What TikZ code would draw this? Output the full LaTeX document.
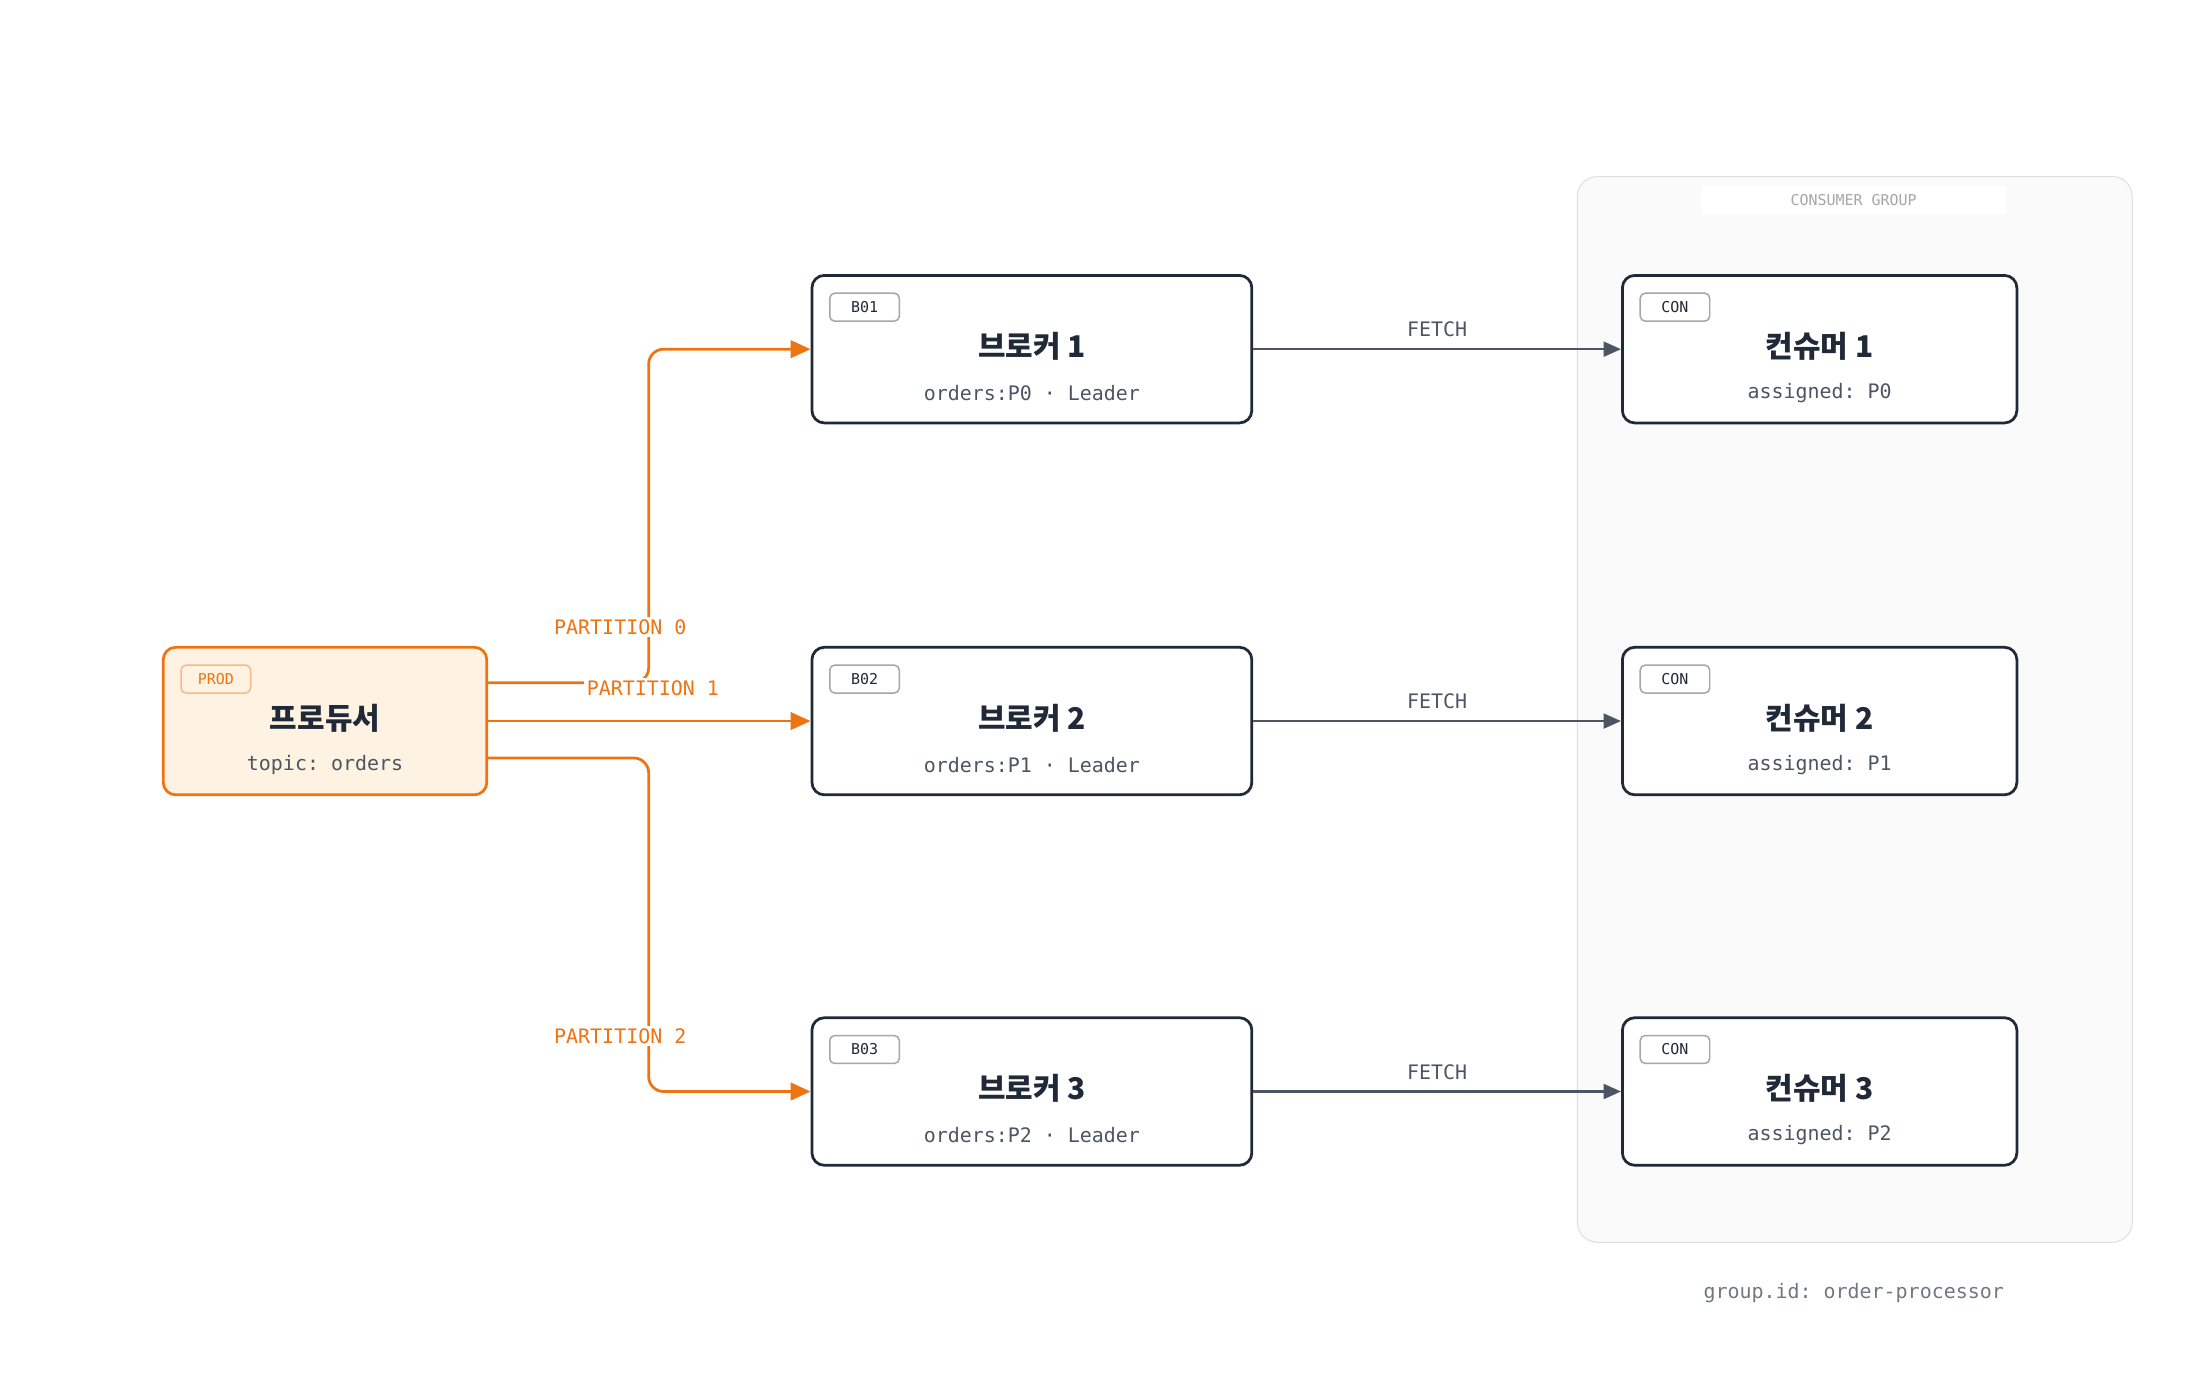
\documentclass[tikz,border=0pt]{standalone}
\usepackage{fontspec}
\setmainfont{Noto Sans CJK KR}
\setmonofont{DejaVu Sans Mono}
\usetikzlibrary{arrows.meta,positioning}
\definecolor{ink}{HTML}{1F2937}
\definecolor{gray1}{HTML}{4B5563}
\definecolor{orng}{HTML}{EE7311}
\definecolor{cream}{HTML}{FEF3E2}
\tikzset{
  box/.style={rectangle, rounded corners=5pt, draw=ink, line width=1.1pt, fill=white, minimum width=6.2cm, minimum height=2.08cm, inner sep=0pt},
  tag/.style={rectangle, rounded corners=2pt, draw=gray!70, line width=0.6pt, fill=white, minimum width=0.98cm, minimum height=0.38cm, font=\ttfamily\fontsize{6}{7}\selectfont, text=ink},
  title/.style={font=\bfseries\fontsize{12}{14}\selectfont, text=ink},
  sub/.style={font=\ttfamily\fontsize{8}{10}\selectfont, text=gray1},
  lbl/.style={font=\ttfamily\fontsize{8}{10}\selectfont},
  send/.style={draw=orng, line width=1.1pt, rounded corners=6pt, -{Triangle[length=8pt,width=7pt]}},
  fetch/.style={draw=gray1, line width=0.9pt, -{Triangle[length=7pt,width=6pt]}}
}
\newcommand{\mkbox}[6]{% name, x, y, tag, title, sub
  \node[box, minimum width=#6] (#1) at (#2,#3) {};
  \node[tag, anchor=north west] (#1t) at ([xshift=0.26cm,yshift=-0.26cm]#1.north west) {#4};
  \node[title] (#1n) at ([yshift=0.04cm]#1.center) {#5};
}
\begin{document}
\begin{tikzpicture}[x=0.02cm,y=-0.02cm]
\useasboundingbox (0,0) rectangle (1550,971);
% consumer group
\node[rectangle, rounded corners=8pt, draw=gray!25, fill=gray!4, minimum width=7.82cm, minimum height=15.02cm, anchor=north west] (grp) at (1111,124) {};
\node[fill=white, minimum width=4.3cm, minimum height=0.38cm, font=\ttfamily\fontsize{6}{7}\selectfont, text=gray!70] (grpl) at (1306,141) {CONSUMER GROUP};
\node[font=\ttfamily\fontsize{8}{10}\selectfont, text=gray1!80] (gid) at (1306,911) {group.id: order-processor};
% producer
\node[box, draw=orng, fill=cream, minimum width=4.56cm] (prod) at (229,508) {};
\node[tag, anchor=north west, draw=orng!50, fill=cream, text=orng] (prodt) at ([xshift=0.26cm,yshift=-0.26cm]prod.north west) {PROD};
\node[title] (prodn) at ([yshift=0.04cm]prod.center) {프로듀서};
\node[sub] at ([yshift=-0.62cm]prod.center) {topic: orders};
% brokers and consumers
\foreach \i/\y/\p in {1/246/0,2/508/1,3/769/2}{
  \mkbox{b\i}{727}{\y}{B0\i}{브로커 \i}{6.2cm}
  \node[sub] at ([yshift=-0.62cm]b\i.center) {orders:P\p\ · Leader};
  \mkbox{c\i}{1282}{\y}{CON}{컨슈머 \i}{5.56cm}
  \node[sub] at ([yshift=-0.62cm]c\i.center) {assigned: P\p};
  \draw[fetch] (b\i) -- node[lbl, text=gray1, above=1pt] {FETCH} (c\i);
}
% partitions
\coordinate (p0) at (343,481);
\coordinate (p2) at (343,534);
\draw[send] (p0) -- (457,481) -- (457,246) -- (b1.west);
\draw[send] (prod.east) -- (b2.west);
\draw[send] (p2) -- (457,534) -- (457,769) -- (b3.west);
\node[lbl, text=orng, fill=white, inner sep=1pt] at (437,442) {PARTITION 0};
\node[lbl, text=orng, fill=white, inner sep=1pt] at (460,485) {PARTITION 1};
\node[lbl, text=orng, fill=white, inner sep=1pt] at (437,730) {PARTITION 2};
\end{tikzpicture}
\end{document}
